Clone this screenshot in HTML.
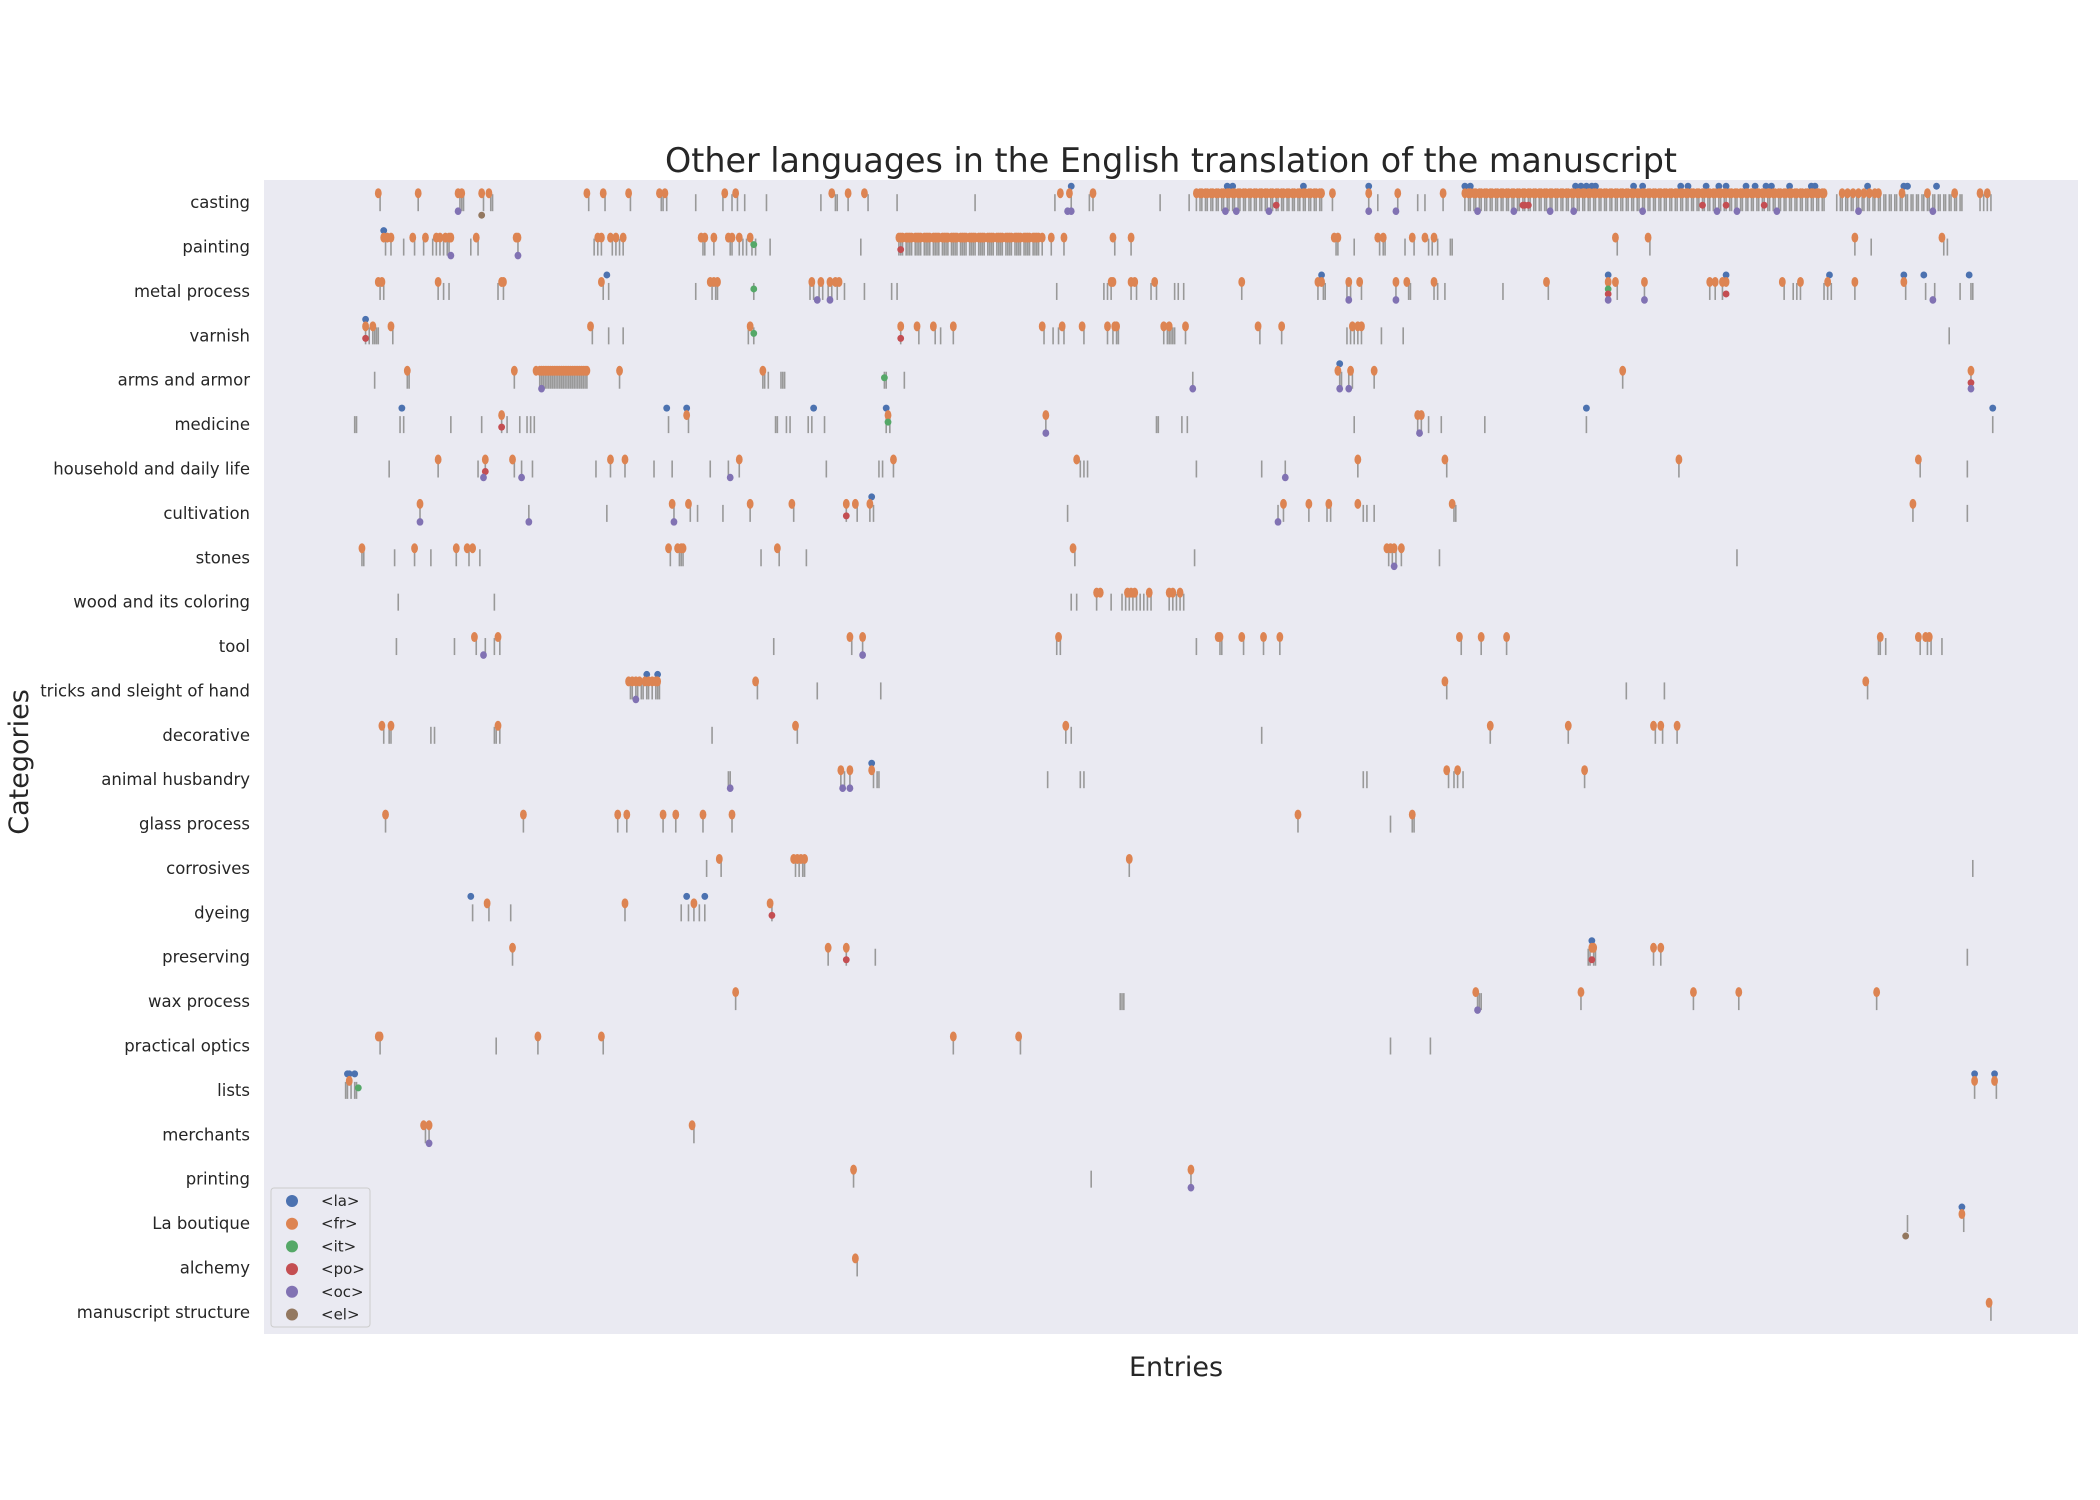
<!DOCTYPE html>
<html><head><meta charset="utf-8">
<style>
html,body{margin:0;padding:0;background:#fff;}
svg{display:block;}
text{font-family:"DejaVu Sans","Liberation Sans",sans-serif;fill:#262626;}
</style></head>
<body>
<svg id="chart" width="2100" height="1500" viewBox="0 0 2100 1500" xmlns="http://www.w3.org/2000/svg">
<rect x="0" y="0" width="2100" height="1500" fill="#ffffff"/>
<rect x="264" y="180" width="1814" height="1154" fill="#eaeaf2"/>
<text x="1171" y="172" font-size="34" text-anchor="middle" textLength="1012" lengthAdjust="spacingAndGlyphs">Other languages in the English translation of the manuscript</text>
<text x="1176" y="1376" font-size="27" text-anchor="middle">Entries</text>
<text x="0" y="0" font-size="27" text-anchor="middle" transform="translate(28,762) rotate(-90)">Categories</text>
<g id="ylabels"></g>
<g id="ticks"></g>
<g id="dots"></g>
<g id="legend"></g>
</svg>
<script>
const categories = ["casting","painting","metal process","varnish","arms and armor","medicine","household and daily life","cultivation","stones","wood and its coloring","tool","tricks and sleight of hand","decorative","animal husbandry","glass process","corrosives","dyeing","preserving","wax process","practical optics","lists","merchants","printing","La boutique","alchemy","manuscript structure"];
const castingBlockA = [514,516,517,519,520,522,523,525,526,528,529,531,532,534,535,537,538,540,541,543,544,546,547,549,550,552,553,555,556,558,559,561,562,564,565,567,568,570,571,573,574,576,577,579,580,582,583];
const castingBlockB = [662,664,665,667,668,670,671,673,674,676,677,679,680,682,683,685,686,688,689,691,692,694,695,697,698,700,701,703,704,706,707,709,710,712,713,715,716,718,719,721,722,724,725,727,728,730,731,733,734,736,737,739,740,742,743,745,746,748,749,751,752,754,755,757,758,760,761,763,764,766,767,769,770,772,773,775,776,778,779,781,782,784,785,787,788,790,791,793,794,796,797,799,800,802,803,805,806,808,809,811,812,814,815,817,818,820,821,823,824,826,827,829,830,832,833,835,836,838,839,841,842,844,845,847,848,850,851,853,854,856,857,859,860];
const castingBlockC = [867,869,870,872,873,875,876,878,879,881,882,884,885,887,888,890,891,893,894,896,897,899,900,902,903,905,906,908,909,911,912,914,915,917,918,920,921,923,924,926,927,929,930,932,933,935,936];
const paintingBlock = [350,351,352,354,355,356,357,359,360,361,362,364,365,366,367,369,370,371,372,374,375,376,377,379,380,381,382,384,385,386,387,389,390,391,392,394,395,396,397,399,400,401,402,404,405,406,407,409,410,411,412,414,415,416,417,419,420,421,422,424,425,426,427,429];
const armsBlock = [152,153,154,155,156,157,158,159,160,161,162,163,164,165,166,167,168,169,170,171,172,173,174,175,176,177,178];
const ticks = [
 [64,85,108,109,110,121,125,126,179,188,202,219,220,222,238,253,258,261,265,277,307,315,316,322,333,349,392,436,445,455,457,494,510,589,609,614,625,636,640,650,946,948,950,952].concat(castingBlockA,castingBlockB,castingBlockC),
 [67,70,77,83,88,93,95,97,99,101,102,114,118,140,182,184,186,192,194,196,198,242,243,248,257,258,262,264,266,269,271,279,329,434,441,469,478,591,592,601,615,617,618,629,634,642,644,647,654,655,746,764,877,886,926,928].concat(paintingBlock),
 [64,66,96,99,102,129,132,187,190,238,247,249,250,270,301,303,306,308,311,313,316,320,331,346,349,437,463,465,467,478,481,489,492,502,504,507,539,581,584,585,597,599,605,624,631,632,645,647,651,683,708,741,746,761,797,800,804,838,843,845,847,860,862,864,877,905,916,921,935,941,942],
 [56,58,60,61,62,63,71,181,190,198,267,270,351,361,370,373,380,430,435,438,441,452,465,468,470,471,496,498,500,502,499,501,508,549,561,597,599,601,603,605,616,628,929],
 [61,79,80,138,196,275,276,278,285,286,287,342,343,353,512,593,594,598,600,612,749,941].concat(armsBlock),
 [50,51,75,77,103,120,131,134,141,145,147,149,223,234,282,283,288,290,300,302,309,343,345,431,492,493,506,509,601,636,638,642,649,673,729,953],
 [69,96,118,122,138,142,148,183,191,199,215,225,246,256,262,310,339,341,347,450,452,454,514,550,563,603,652,780,913,939],
 [86,146,189,226,235,239,253,268,292,321,327,334,336,443,559,562,576,586,588,606,608,612,656,657,909,939],
 [54,55,72,83,92,106,113,119,224,229,230,231,274,284,299,447,513,620,622,624,627,648,812],
 [74,127,445,448,459,467,473,475,477,479,481,483,485,487,489,499,501,503,505,507],
 [73,105,117,122,127,130,281,324,330,437,439,514,527,528,540,551,560,660,671,685,890,891,894,913,917,919,925],
 [202,203,205,206,208,209,211,212,214,216,217,218,272,305,340,652,751,772,884],
 [66,69,70,92,94,127,128,130,247,294,442,445,550,676,719,767,771,779],
 [256,257,318,320,323,336,338,339,432,450,452,606,608,653,656,658,661,728],
 [67,143,195,200,220,227,242,258,570,621,633,634],
 [244,252,293,295,297,298,477,942],
 [115,124,136,199,230,234,237,240,243,280],
 [137,311,321,337,730,731,733,734,766,770,939],
 [260,472,473,474,669,670,671,726,788,813,889],
 [64,128,151,187,380,417,621,643],
 [45,46,48,50,51,943,955],
 [89,91,237],
 [325,456,511],
 [906,937],
 [327],
 [952]
];
const fr = [
 [63,85,107,109,120,124,178,187,201,218,221,254,260,313,322,331,439,444,457,589,609,625,650,870,873,876,879,882,885,888,890,903,917,932,946,950].concat(castingBlockA,castingBlockB),
 [66,68,70,82,89,95,97,100,102,103,117,139,140,184,186,191,194,198,241,243,248,256,258,262,268,434,441,468,478,590,592,614,617,633,640,645,745,763,877,925].concat(paintingBlock),
 [63,65,96,131,132,186,246,248,250,302,307,312,315,317,467,468,478,480,491,539,581,583,598,604,624,630,645,707,741,745,761,797,800,804,806,837,847,862,877,904],
 [56,60,70,180,268,351,360,369,380,429,440,451,465,469,470,496,499,508,548,561,600,603,605],
 [79,138,150,196,275,592,599,612,749,941].concat(armsBlock),
 [131,233,344,431,636,638],
 [96,122,137,191,199,262,347,448,603,651,780,912],
 [86,225,234,268,291,321,326,334,562,576,587,603,655,909],
 [54,83,106,112,115,223,228,230,231,283,446,619,621,623,627],
 [459,461,476,478,480,488,499,501,505],
 [116,129,323,330,438,526,527,539,551,560,659,671,685,891,912,916,918],
 [201,203,205,207,210,212,214,216,217,271,651,883],
 [65,70,129,293,442,676,719,766,770,779],
 [318,323,335,652,658,728],
 [67,143,195,200,220,227,242,258,570,633],
 [251,292,294,296,298,477],
 [123,199,237,279],
 [137,311,321,732,733,766,770],
 [260,668,726,788,813,889],
 [63,64,151,186,380,416],
 [47,943,954],
 [88,91,236],
 [325,511],
 [936],
 [326],
 [951]
];
const la = [
 [445,531,534,573,609,662,665,723,726,729,732,734,755,760,781,785,795,802,806,817,822,828,831,841,853,855,884,904,906,922],
 [66],[189,583,741,806,863,904,915,940],[56],[593],[76,222,233,303,343,729,953],
 [],[335],[],[],[],[211,217],[],[335],[],[],[114,233,243],[732],[],[],[46,47,50,943,954],[],[],[936],[],[]
];
const it = [
 [],[270],[270,741],[270],[342],[344],[],[],[],[],[],[],[],[],[],[],[],[],[],[],[52],[],[],[],[],[]
];
const po = [
 [558,694,695,697,793,806,827],[351],[741,806],[56,351],[941],[131],[122],[321],[],[],[],[],[],[],[],[],[280],[321,732],[],[],[],[],[],[],[],[]
];
const oc = [
 [107,443,445,530,536,554,609,624,669,689,709,722,760,801,812,834,879,920],
 [103,140],[305,312,598,624,741,761,920],[],[153,512,593,598,941],[431,637],
 [121,142,257,563],[86,146,226,559],[623],[],[121,330],[205],[],[257,319,323],[],[],[],[],[669],[],[],[91],[511],[],[],[]
];
const el = [
 [120],[],[],[],[],[],[],[],[],[],[],[],[],[],[],[],[],[],[],[],[],[],[],[905],[],[]
];
const langNames = ["<la>","<fr>","<it>","<po>","<oc>","<el>"];
const langColors = ["#4c72b0","#dd8452","#55a868","#c44e52","#8172b3","#937860"];

const NS = "http://www.w3.org/2000/svg";
const X0 = 264, X1 = 2078, Y0 = 180, Y1 = 1334;
const xDomain = [0, 1000];
function xScale(e){ return X0 + (e - xDomain[0]) / (xDomain[1] - xDomain[0]) * (X1 - X0); }
function yScale(i){ return Y0 + (Y1 - Y0) / categories.length * (i + 0.5); }
function mk(tag, attrs, parent){ const el = document.createElementNS(NS, tag); for (const k in attrs) el.setAttribute(k, attrs[k]); parent.appendChild(el); return el; }

const gL = document.getElementById('ylabels');
const gT = document.getElementById('ticks');
const gD = document.getElementById('dots');
const gLeg = document.getElementById('legend');

categories.forEach((c, i) => {
  const t = mk('text', {x: 250, y: yScale(i) + 6, 'font-size': 16.5, 'text-anchor': 'end'}, gL);
  t.textContent = c;
  
  
});

ticks.forEach((arr, i) => {
  const cy = yScale(i);
  arr.forEach(e => {
    const l = mk('line', {x1: xScale(e), x2: xScale(e), y1: cy - 8, y2: cy + 9, stroke: '#999999', 'stroke-width': 1.6}, gT);
    
    
  });
});

const langSeries = [la, fr, it, po, oc, el];
const langOffsets = [-16, -9, -2, 3, 9, 13];
const langRy = [3.5, 5, 3.5, 3.5, 3.8, 3.5];
langSeries.forEach((series, k) => {
  series.forEach((arr, i) => {
    const cy = yScale(i) + langOffsets[k];
    arr.forEach(e => {
      const d = mk('ellipse', {cx: xScale(e), cy: cy, rx: 3.4, ry: langRy[k], fill: langColors[k]}, gD);
      
      
    });
  });
});

const box = mk('rect', {x: 271, y: 1188, width: 99, height: 139, rx: 3, fill: '#eaeaf2', stroke: '#cccccc', 'stroke-width': 1}, gLeg);


langNames.forEach((n, k) => {
  const y = 1201 + k * 22.7;
  const c = mk('circle', {cx: 292, cy: y, r: 6, fill: langColors[k]}, gLeg);
  
  
  const t = mk('text', {x: 321, y: y + 5, 'font-size': 15}, gLeg);
  t.textContent = n;
  
  
});
</script>
</body></html>
